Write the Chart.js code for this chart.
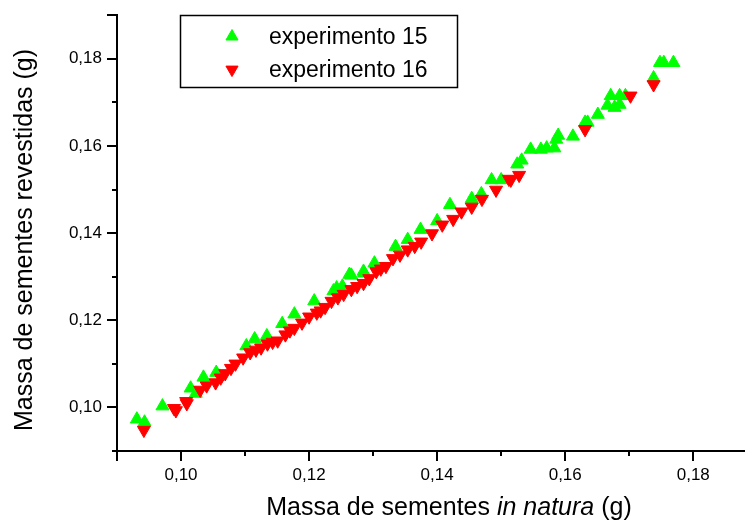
<!DOCTYPE html>
<html>
<head>
<meta charset="utf-8">
<script src="https://cdn.jsdelivr.net/npm/chart.js@4.4.1/dist/chart.umd.min.js"></script>
<style>
  html, body { margin: 0; padding: 0; background: #fff; overflow: hidden; }
  #wrap { width: 753px; height: 522px; position: relative; }
</style>
</head>
<body>
<div id="wrap"><canvas id="c"></canvas></div>
<script>
// ---- data ----
const seriesNames = ['experimento 15', 'experimento 16'];

const exp15X = [0.0931,0.0943,0.0971,0.1015,0.1023,0.1035,0.1055,0.1102,0.1115,0.1134,0.1158,0.1177,0.1208,0.1238,0.1243,0.1252,0.1263,0.1266,0.1285,0.1286,0.1302,0.1335,0.1354,0.1374,0.1400,0.1420,0.1454,0.1469,0.1485,0.1500,0.1525,0.1532,0.1546,0.1562,0.1571,0.1583,0.1586,0.1589,0.1612,0.1631,0.1635,0.1651,0.1666,0.1671,0.1677,0.1685,0.1685,0.1694,0.1738,0.1748,0.1754,0.1769];
const exp15Y = [0.0973,0.0966,0.1003,0.1044,0.1032,0.1069,0.1080,0.1141,0.1157,0.1164,0.1192,0.1214,0.1244,0.1267,0.1274,0.1278,0.1305,0.1303,0.1312,0.1308,0.1331,0.1369,0.1385,0.1408,0.1428,0.1465,0.1479,0.1490,0.1522,0.1522,0.1558,0.1567,0.1592,0.1592,0.1595,0.1595,0.1615,0.1624,0.1622,0.1654,0.1654,0.1672,0.1693,0.1715,0.1688,0.1695,0.1715,0.1715,0.1756,0.1791,0.1791,0.1791];

const exp16X = [0.0942,0.0989,0.0992,0.1008,0.1009,0.1030,0.1040,0.1054,0.1062,0.1069,0.1078,0.1085,0.1097,0.1108,0.1117,0.1125,0.1135,0.1143,0.1151,0.1163,0.1170,0.1177,0.1189,0.1200,0.1212,0.1218,0.1225,0.1235,0.1245,0.1254,0.1266,0.1275,0.1285,0.1294,0.1305,0.1312,0.1320,0.1331,0.1342,0.1354,0.1365,0.1375,0.1392,0.1408,0.1425,0.1438,0.1454,0.1470,0.1492,0.1512,0.1515,0.1528,0.1631,0.1702,0.1738];
const exp16Y = [0.0948,0.0998,0.0993,0.1014,0.1009,0.1040,0.1050,0.1057,0.1068,0.1078,0.1090,0.1100,0.1114,0.1126,0.1132,0.1137,0.1146,0.1150,0.1153,0.1167,0.1176,0.1182,0.1194,0.1208,0.1217,0.1222,0.1230,0.1244,0.1252,0.1260,0.1271,0.1278,0.1285,0.1296,0.1312,0.1318,0.1324,0.1342,0.1350,0.1362,0.1370,0.1380,0.1399,0.1419,0.1432,0.1449,0.1460,0.1478,0.1499,0.1524,0.1522,0.1533,0.1638,0.1715,0.1741];

const xTickValues = [0.09,0.10,0.11,0.12,0.13,0.14,0.15,0.16,0.17,0.18];
const yTickValues = [0.09,0.10,0.11,0.12,0.13,0.14,0.15,0.16,0.17,0.18,0.19];
const xTickLabels = ['0,10','0,12','0,14','0,16','0,18'];
const yTickLabels = ['0,10','0,12','0,14','0,16','0,18'];
const xMin = 0.09, xMax = 0.188, yMin = 0.09, yMax = 0.19;

const xTitleParts = [['Massa de sementes ', false], ['in natura', true], [' (g)', false]];
const yTitle = 'Massa de sementes revestidas (g)';

// ---- helpers ----
const FONT = '"Liberation Sans", Arial, Helvetica, sans-serif';
const fmt = v => v.toFixed(2).replace('.', ',');
const labelFor = (v, list) => list.includes(fmt(v)) ? fmt(v) : '';
const toPoints = (xs, ys) => xs.map((x, i) => ({ x: x, y: ys[i] }));

const GREEN = '#00ff00', RED = '#ff0000';
const MARK_R = 7.5;

const decorPlugin = {
  id: 'decor',
  afterDraw(chart) {
    const ctx = chart.ctx, ca = chart.chartArea;
    const xs = chart.scales.x, ys = chart.scales.y;
    ctx.save();
    ctx.strokeStyle = '#000';
    ctx.lineWidth = 2;
    // x ticks (outward)
    xTickValues.forEach((v, i) => {
      const px = Math.round(xs.getPixelForValue(v));
      const long = labelFor(v, xTickLabels) !== '' || i === 0;
      ctx.beginPath();
      ctx.moveTo(px, ca.bottom);
      ctx.lineTo(px, ca.bottom + (long ? 10 : 5));
      ctx.stroke();
    });
    // y ticks (outward)
    yTickValues.forEach((v, i) => {
      const py = Math.round(ys.getPixelForValue(v));
      const long = labelFor(v, yTickLabels) !== '' || i === yTickValues.length - 1;
      ctx.beginPath();
      ctx.moveTo(ca.left, py);
      ctx.lineTo(ca.left - (long ? 10 : 5), py);
      ctx.stroke();
    });
    // axis titles
    ctx.fillStyle = '#000';
    ctx.textBaseline = 'alphabetic';
    let total = 0;
    xTitleParts.forEach(([t, it]) => {
      ctx.font = (it ? 'italic ' : '') + '25px ' + FONT;
      total += ctx.measureText(t).width;
    });
    let tx = 449 - total / 2;
    xTitleParts.forEach(([t, it]) => {
      ctx.font = (it ? 'italic ' : '') + '25px ' + FONT;
      ctx.textAlign = 'left';
      ctx.fillText(t, tx, 515);
      tx += ctx.measureText(t).width;
    });
    ctx.save();
    ctx.translate(32, 240);
    ctx.rotate(-Math.PI / 2);
    ctx.font = '25px ' + FONT;
    ctx.textAlign = 'center';
    ctx.fillText(yTitle, 0, 0);
    ctx.restore();
    // legend
    ctx.lineWidth = 1.5;
    ctx.strokeRect(180.5, 15.5, 277, 72);
    const ds = chart.data.datasets;
    const rows = [[ds[0], 36.5, 43.5], [ds[1], 69.6, 77]];
    rows.forEach(([d, cy, by]) => {
      ctx.fillStyle = d.backgroundColor;
      ctx.strokeStyle = d.borderColor;
      ctx.lineWidth = 1;
      Chart.helpers.drawPoint(ctx, { pointStyle: 'triangle', radius: 7, rotation: d.pointRotation, borderWidth: 1 }, 232, cy);
      ctx.fillStyle = '#000';
      ctx.font = '23px ' + FONT;
      ctx.textAlign = 'left';
      ctx.fillText(d.label, 269, by);
    });
    ctx.restore();
  }
};

new Chart(document.getElementById('c'), {
  type: 'scatter',
  data: {
    datasets: [
      {
        label: seriesNames[0],
        data: toPoints(exp15X, exp15Y),
        pointStyle: 'triangle',
        pointRotation: 0,
        pointRadius: MARK_R,
        pointHoverRadius: MARK_R,
        backgroundColor: GREEN,
        borderColor: GREEN,
        borderWidth: 1,
        order: 2
      },
      {
        label: seriesNames[1],
        data: toPoints(exp16X, exp16Y),
        pointStyle: 'triangle',
        pointRotation: 180,
        pointRadius: MARK_R,
        pointHoverRadius: MARK_R,
        backgroundColor: RED,
        borderColor: RED,
        borderWidth: 1,
        order: 1
      }
    ]
  },
  options: {
    responsive: true,
    maintainAspectRatio: false,
    animation: false,
    events: [],
    layout: { padding: { top: 12, left: 0, right: 0, bottom: 0 } },
    plugins: { legend: { display: false }, tooltip: { enabled: false } },
    scales: {
      x: {
        type: 'linear',
        min: xMin, max: xMax,
        afterBuildTicks: s => { s.ticks = xTickValues.map(v => ({ value: v })); },
        afterFit: s => { s.height = 71; },
        ticks: {
          autoSkip: false, maxRotation: 0,
          color: '#000', font: { family: FONT, size: 17 }, padding: 4,
          callback: v => labelFor(v, xTickLabels)
        },
        grid: { display: true, drawOnChartArea: false, drawTicks: true, tickLength: 10, tickColor: 'rgba(0,0,0,0)' },
        border: { display: true, color: '#000', width: 2 },
        title: { display: false }
      },
      y: {
        type: 'linear',
        min: yMin, max: yMax,
        afterBuildTicks: s => { s.ticks = yTickValues.map(v => ({ value: v })); },
        afterFit: s => { s.width = 117; },
        ticks: {
          autoSkip: false,
          color: '#000', font: { family: FONT, size: 17 }, padding: 5,
          callback: v => labelFor(v, yTickLabels)
        },
        grid: { display: true, drawOnChartArea: false, drawTicks: true, tickLength: 10, tickColor: 'rgba(0,0,0,0)' },
        border: { display: true, color: '#000', width: 2 },
        title: { display: false }
      }
    }
  },
  plugins: [decorPlugin]
});
</script>
</body>
</html>
